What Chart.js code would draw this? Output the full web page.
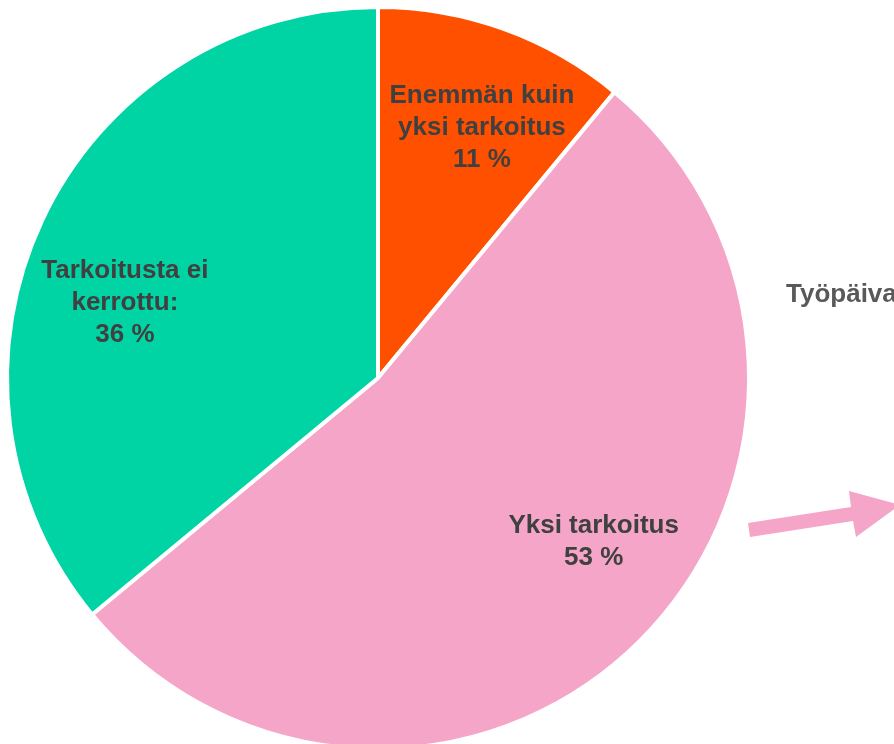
<!DOCTYPE html>
<html>
<head>
<meta charset="utf-8">
<script src="https://cdn.jsdelivr.net/npm/chart.js@4"></script>
<style>
  html, body { margin: 0; padding: 0; background: #fff; overflow: hidden; }
  #wrap { width: 894px; height: 751px; position: relative; }
</style>
</head>
<body>
<div id="wrap"><canvas id="pieChart"></canvas></div>
<script>
const categories = [
    ["Enemmän kuin", "yksi tarkoitus"],
    ["Yksi tarkoitus"],
    ["Tarkoitusta ei", "kerrottu:"]
];
const shares = [11, 53, 36];
const sliceColors = ["#ff5000", "#f4a5c8", "#00d3a4"];
const sideNote = "Työpäiva";

// small nudges so the labels sit where the original put them
const labelNudge = [[26, -34], [53, 1], [-45, 23]];

const sliceLabels = {
    id: "sliceLabels",
    afterDatasetsDraw(chart) {
        const ctx = chart.ctx;
        const arcs = chart.getDatasetMeta(0).data;
        ctx.save();
        ctx.font = "bold 26px 'Liberation Sans', Arial, sans-serif";
        ctx.fillStyle = "#404040";
        ctx.textAlign = "center";
        ctx.textBaseline = "middle";
        arcs.forEach((arc, i) => {
            const mid = (arc.startAngle + arc.endAngle) / 2;
            const r = arc.outerRadius * 0.62;
            const x = arc.x + Math.cos(mid) * r + labelNudge[i][0];
            const y = arc.y + Math.sin(mid) * r + labelNudge[i][1];
            const lines = categories[i].concat([shares[i] + " %"]);
            const lh = 32;
            const top = y - (lines.length - 1) * lh / 2;
            lines.forEach((t, k) => ctx.fillText(t, x, top + k * lh));
        });

        // note text and arrow on the right, cut by the page edge
        ctx.textAlign = "left";
        ctx.fillStyle = "#595959";
        ctx.fillText(sideNote, 786, 295);

        ctx.fillStyle = "#f4a5c8";
        ctx.beginPath();
        ctx.moveTo(748, 523);
        ctx.lineTo(851, 507);
        ctx.lineTo(849, 491);
        ctx.lineTo(900, 505);
        ctx.lineTo(856, 537);
        ctx.lineTo(853, 521);
        ctx.lineTo(750, 537);
        ctx.closePath();
        ctx.fill();
        ctx.restore();
    }
};

new Chart(document.getElementById("pieChart").getContext("2d"), {
    type: "pie",
    data: {
        labels: categories.map(c => c.join(" ")),
        datasets: [{
            data: shares,
            backgroundColor: sliceColors,
            borderColor: "#ffffff",
            borderWidth: 4
        }]
    },
    options: {
        responsive: true,
        maintainAspectRatio: false,
        animation: false,
        layout: { padding: { left: 5, top: 5, right: 143, bottom: 0 } },
        plugins: {
            legend: { display: false },
            tooltip: { enabled: false }
        }
    },
    plugins: [sliceLabels]
});
</script>
</body>
</html>
